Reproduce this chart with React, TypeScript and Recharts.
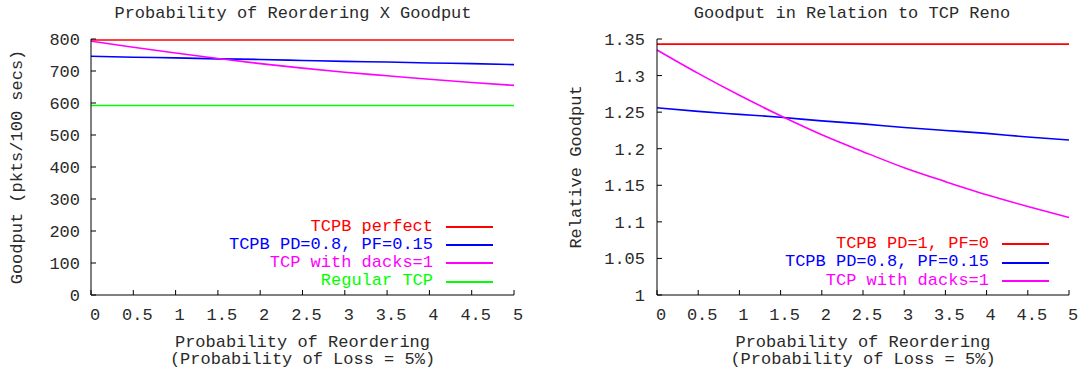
import { LineChart, Line, XAxis, YAxis, Legend, Label } from 'recharts';

const FONT = '"Liberation Mono", "Courier New", monospace';
const INK = '#2a2a2a';
const TICK = 5;

// x: probability of reordering (%)
const reorderProb = [0, 0.5, 1, 1.5, 2, 2.5, 3, 3.5, 4, 4.5, 5];
const xTicks = [0, 0.5, 1, 1.5, 2, 2.5, 3, 3.5, 4, 4.5, 5];

// left chart: goodput in pkts/100 secs
const tcpbPerfect = [797, 797, 797, 797, 797, 797, 797, 797, 797, 797, 797];
const tcpbPd08 = [746, 743, 741, 738, 736, 733, 730, 728, 725, 723, 720];
const tcpDacks = [793, 774, 756, 739, 723, 709, 696, 685, 674, 664, 655];
const regularTcp = [592, 592, 592, 592, 592, 592, 592, 592, 592, 592, 592];
const goodputTicks = [0, 100, 200, 300, 400, 500, 600, 700, 800];

// right chart: goodput relative to TCP Reno
const relPd1 = [1.343, 1.343, 1.343, 1.343, 1.343, 1.343, 1.343, 1.343, 1.343, 1.343, 1.343];
const relPd08 = [1.256, 1.251, 1.247, 1.243, 1.238, 1.234, 1.229, 1.225, 1.221, 1.216, 1.212];
const relDacks = [1.335, 1.303, 1.273, 1.245, 1.219, 1.196, 1.174, 1.155, 1.137, 1.121, 1.106];
const relTicks = [1, 1.05, 1.1, 1.15, 1.2, 1.25, 1.3, 1.35];

const leftSeries = [
  { key: 'perfect', name: 'TCPB perfect', color: '#ff0000' },
  { key: 'pd08', name: 'TCPB PD=0.8, PF=0.15', color: '#0000ff' },
  { key: 'dacks', name: 'TCP with dacks=1', color: '#ff00ff' },
  { key: 'regular', name: 'Regular TCP', color: '#00ff00' },
];

const rightSeries = [
  { key: 'pd1', name: 'TCPB PD=1, PF=0', color: '#ff0000' },
  { key: 'pd08', name: 'TCPB PD=0.8, PF=0.15', color: '#0000ff' },
  { key: 'dacks', name: 'TCP with dacks=1', color: '#ff00ff' },
];

const leftRows = reorderProb.map((p, i) => ({
  p,
  perfect: tcpbPerfect[i],
  pd08: tcpbPd08[i],
  dacks: tcpDacks[i],
  regular: regularTcp[i],
}));

const rightRows = reorderProb.map((p, i) => ({
  p,
  pd1: relPd1[i],
  pd08: relPd08[i],
  dacks: relDacks[i],
}));

const fmt = (v: number) => String(Number(v.toFixed(2)));

const txt = { fontFamily: FONT, fontSize: 17, fill: INK };

function BottomTick({ x, y, payload }: any) {
  return (
    <g>
      <line x1={x} y1={y} x2={x} y2={y - TICK} stroke="#000" />
      <text x={x + 4} y={y + 25} textAnchor="middle" {...txt}>{fmt(payload.value)}</text>
    </g>
  );
}

function TopTick({ x, y }: any) {
  return <line x1={x} y1={y} x2={x} y2={y + TICK} stroke="#000" />;
}

function makeLeftTick(gap: number) {
  return ({ x, y, payload }: any) => (
    <g>
      <line x1={x} y1={y} x2={x + TICK} y2={y} stroke="#000" />
      <text x={x - gap} y={y} dy="0.35em" textAnchor="end" {...txt}>{fmt(payload.value)}</text>
    </g>
  );
}

function RightTick({ x, y }: any) {
  return <line x1={x} y1={y} x2={x - TICK} y2={y} stroke="#000" />;
}

function XTitle({ viewBox }: any) {
  const cx = viewBox.x + viewBox.width / 2;
  return (
    <g>
      <text x={cx} y={viewBox.y + 52} textAnchor="middle" {...txt}>Probability of Reordering</text>
      <text x={cx} y={viewBox.y + 69} textAnchor="middle" {...txt}>(Probability of Loss = 5%)</text>
    </g>
  );
}

// y-axis title plus the chart title above the plot
function makeYTitle(text: string, bx: number, title: string, tx: number) {
  return ({ viewBox }: any) => {
    const cy = viewBox.y + viewBox.height / 2;
    return (
      <g>
        <text x={bx} y={cy} transform={`rotate(-90 ${bx} ${cy})`} textAnchor="middle" {...txt}>{text}</text>
        <text x={tx} y={18} textAnchor="middle" {...txt}>{title}</text>
      </g>
    );
  };
}

function makeLegend(series: { name: string; color: string }[]) {
  return () => (
    <div style={{ fontFamily: FONT, fontSize: 17 }}>
      {series.map((s) => (
        <div key={s.name} style={{ display: 'flex', justifyContent: 'flex-end', alignItems: 'center', height: 18.3 }}>
          <span style={{ color: s.color, lineHeight: '18.3px', whiteSpace: 'pre' }}>{s.name}</span>
          <span style={{ display: 'inline-block', width: 47, height: 2, marginLeft: 13, background: s.color }} />
        </div>
      ))}
    </div>
  );
}

const line = { type: 'monotone' as const, dot: false, strokeWidth: 1.6, isAnimationActive: false };

function GoodputChart() {
  return (
    <LineChart width={540} height={373} data={leftRows} margin={{ top: 39, right: 26, bottom: 48, left: 0 }}>
      <XAxis dataKey="p" type="number" domain={[0, 5]} ticks={xTicks} interval={0} height={30}
        tickSize={0} tickMargin={0} tickLine={false} axisLine={{ stroke: '#000' }} tick={BottomTick}>
        <Label content={XTitle} />
      </XAxis>
      <XAxis xAxisId="top" orientation="top" type="number" domain={[0, 5]} ticks={xTicks} interval={0} height={0}
        tickSize={0} tickMargin={0} tickLine={false} axisLine={{ stroke: '#000' }} tick={TopTick} />
      <YAxis type="number" domain={[0, 800]} ticks={goodputTicks} interval={0} width={91}
        tickSize={0} tickMargin={0} tickLine={false} axisLine={{ stroke: '#000' }} tick={makeLeftTick(11)}>
        <Label content={makeYTitle('Goodput (pkts/100 secs)', 22, 'Probability of Reordering X Goodput', 293)} />
      </YAxis>
      <YAxis yAxisId="right" orientation="right" type="number" domain={[0, 800]} ticks={goodputTicks} interval={0} width={0}
        tickSize={0} tickMargin={0} tickLine={false} axisLine={{ stroke: '#000' }} tick={RightTick} />
      <Legend layout="vertical" align="center" verticalAlign="middle" content={makeLegend(leftSeries)}
        wrapperStyle={{ left: 100, top: 217.6, width: 393 }} />
      {leftSeries.map((s) => (
        <Line key={s.key} {...line} dataKey={s.key} name={s.name} stroke={s.color} />
      ))}
    </LineChart>
  );
}

function RelativeChart() {
  return (
    <LineChart width={541} height={373} data={rightRows} margin={{ top: 39, right: 12, bottom: 48, left: 0 }}>
      <XAxis dataKey="p" type="number" domain={[0, 5]} ticks={xTicks} interval={0} height={30}
        tickSize={0} tickMargin={0} tickLine={false} axisLine={{ stroke: '#000' }} tick={BottomTick}>
        <Label content={XTitle} />
      </XAxis>
      <XAxis xAxisId="top" orientation="top" type="number" domain={[0, 5]} ticks={xTicks} interval={0} height={0}
        tickSize={0} tickMargin={0} tickLine={false} axisLine={{ stroke: '#000' }} tick={TopTick} />
      <YAxis type="number" domain={[1, 1.35]} ticks={relTicks} interval={0} width={117}
        tickSize={0} tickMargin={0} tickLine={false} axisLine={{ stroke: '#000' }} tick={makeLeftTick(12)}>
        <Label content={makeYTitle('Relative Goodput', 41, 'Goodput in Relation to TCP Reno', 312)} />
      </YAxis>
      <YAxis yAxisId="right" orientation="right" type="number" domain={[1, 1.35]} ticks={relTicks} interval={0} width={0}
        tickSize={0} tickMargin={0} tickLine={false} axisLine={{ stroke: '#000' }} tick={RightTick} />
      <Legend layout="vertical" align="center" verticalAlign="middle" content={makeLegend(rightSeries)}
        wrapperStyle={{ left: 100, top: 235.2, width: 409 }} />
      {rightSeries.map((s) => (
        <Line key={s.key} {...line} dataKey={s.key} name={s.name} stroke={s.color} />
      ))}
    </LineChart>
  );
}

export default function App() {
  return (
    <div style={{ position: 'absolute', left: 0, top: 0, width: 1081, height: 373, display: 'flex', background: '#fff' }}>
      <GoodputChart />
      <RelativeChart />
    </div>
  );
}
